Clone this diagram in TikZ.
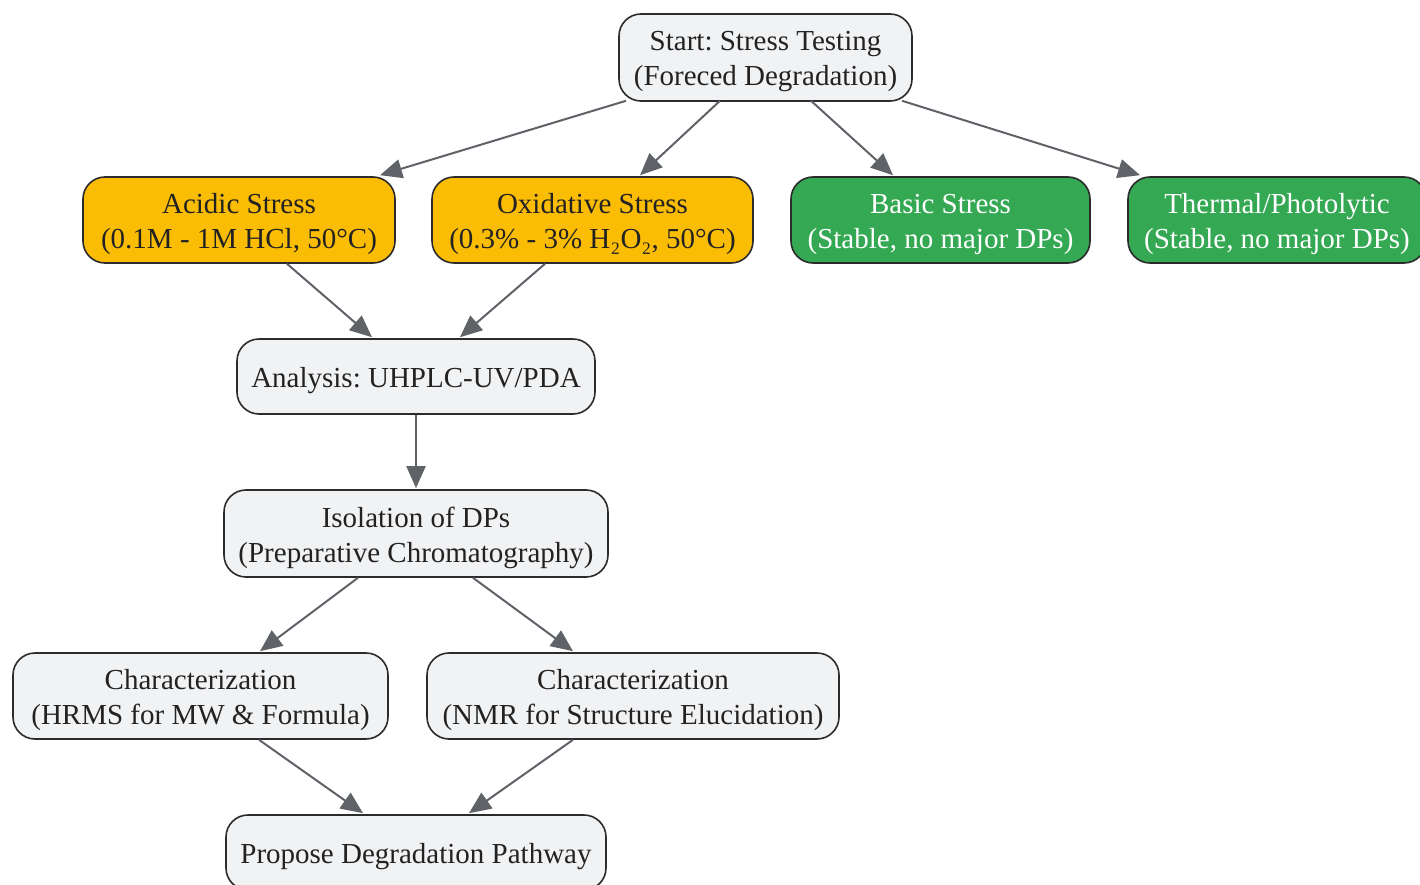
\documentclass[tikz,border=0pt]{standalone}
\usepackage{fontspec}
\setmainfont{Liberation Serif}
\usetikzlibrary{arrows.meta,calc}
\frenchspacing
\definecolor{boxgray}{HTML}{F1F2F4}
\definecolor{boxline}{HTML}{2B2B2B}
\definecolor{warn}{HTML}{FBBC04}
\definecolor{okgreen}{HTML}{34A853}
\definecolor{arrowgray}{HTML}{5F6368}
\definecolor{txt}{HTML}{222222}
\tikzset{
  boxtext/.style={text=txt, align=center, inner sep=0pt, yshift=-4pt, font=\fontsize{29}{35}\selectfont},
  box/.style={draw=boxline, line width=1.6pt, rounded corners=22pt, fill=boxgray},
  warnbox/.style={box, fill=warn},
  okbox/.style={box, fill=okgreen},
  oktext/.style={boxtext, text=white},
  conn/.style={draw=arrowgray, line width=2pt, -{Triangle[length=22pt,width=19pt]}}
}
\begin{document}
\begin{tikzpicture}[x=1pt,y=-1pt]
\clip (0,0) rectangle (1420,885);
\fill[white] (0,0) rectangle (1420,885);
\node[box, minimum width=293pt, minimum height=87pt, label={[boxtext]center:{Start: Stress Testing\\(Foreced Degradation)}}] (start) at (765.5,57.5) {};
\node[warnbox, minimum width=312pt, minimum height=86pt, label={[boxtext]center:{Acidic Stress\\(0.1M - 1M HCl, 50°C)}}] (acid) at (239,220) {};
\node[warnbox, minimum width=321pt, minimum height=86pt, label={[boxtext]center:{Oxidative Stress\\(0.3\% - 3\% H₂O₂, 50°C)}}] (oxi) at (592.5,220) {};
\node[okbox, minimum width=299pt, minimum height=86pt, label={[oktext]center:{Basic Stress\\(Stable, no major DPs)}}] (basic) at (940.5,220) {};
\node[okbox, minimum width=298pt, minimum height=86pt, label={[oktext]center:{Thermal/Photolytic\\(Stable, no major DPs)}}] (therm) at (1277,220) {};
\node[box, minimum width=358pt, minimum height=75pt, label={[boxtext]center:{Analysis: UHPLC-UV/PDA}}] (anal) at (416,376.5) {};
\node[box, minimum width=384pt, minimum height=87pt, label={[boxtext]center:{Isolation of DPs\\(Preparative Chromatography)}}] (iso) at (416,533.5) {};
\node[box, minimum width=375pt, minimum height=86pt, label={[boxtext]center:{Characterization\\(HRMS for MW \& Formula)}}] (hrms) at (200.5,696) {};
\node[box, minimum width=412pt, minimum height=86pt, label={[boxtext]center:{Characterization\\(NMR for Structure Elucidation)}}] (nmr) at (633,696) {};
\node[box, minimum width=380pt, minimum height=75pt, label={[boxtext]center:{Propose Degradation Pathway}}] (prop) at (416,852.5) {};

\draw[conn] ($(start.south)+(-139.5,-1)$) -- ($(acid.north)+(141,-1)$);
\draw[conn] ($(start.south)+(-45.5,-1)$) -- ($(oxi.north)+(47.5,-1)$);
\draw[conn] ($(start.south)+(45.5,-1)$) -- ($(basic.north)+(-47.5,-1)$);
\draw[conn] ($(start.south)+(136.5,-1)$) -- ($(therm.north)+(-137,-1)$);
\draw[conn] ($(acid.south)+(48,0)$) -- ($(anal.north)+(-44,-1)$);
\draw[conn] ($(oxi.south)+(-47.5,0)$) -- ($(anal.north)+(44,-1)$);
\draw[conn] (anal.south) -- ($(iso.north)+(0,-1)$);
\draw[conn] ($(iso.south)+(-58,0)$) -- ($(hrms.north)+(59.5,-1)$);
\draw[conn] ($(iso.south)+(57,0)$) -- ($(nmr.north)+(-60,-1)$);
\draw[conn] ($(hrms.south)+(58.5,0)$) -- ($(prop.north)+(-53,-1)$);
\draw[conn] ($(nmr.south)+(-60,0)$) -- ($(prop.north)+(53,-1)$);
\end{tikzpicture}
\end{document}
